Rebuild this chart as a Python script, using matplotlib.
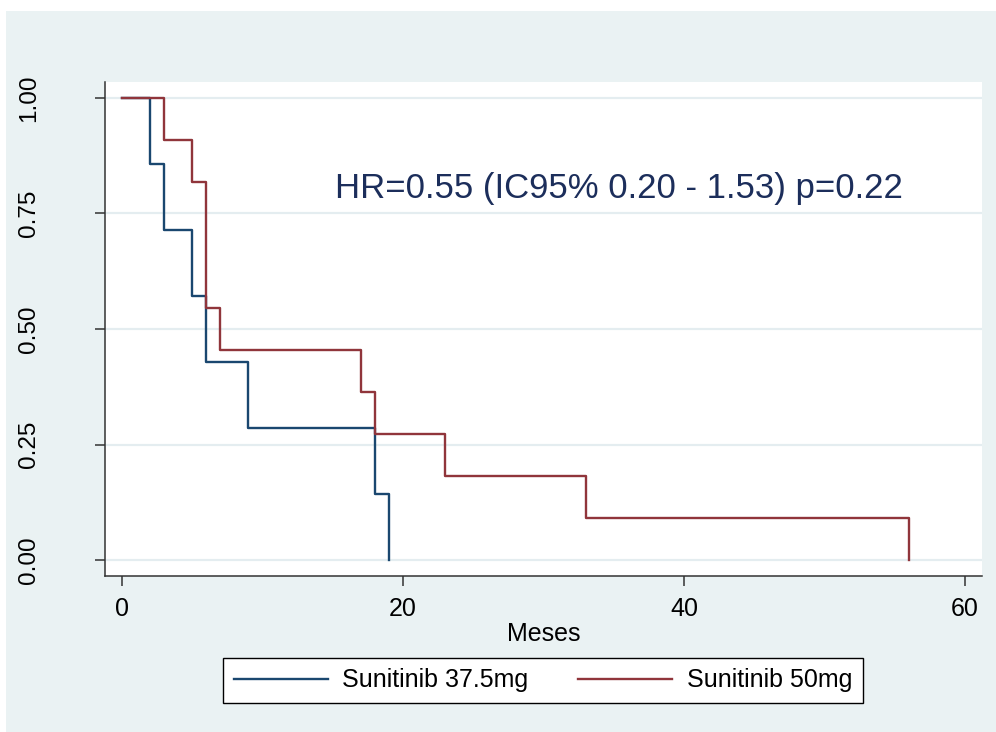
import matplotlib
matplotlib.use("Agg")
import matplotlib.pyplot as plt
from matplotlib.patches import Rectangle

plt.rcParams['font.family'] = ['Liberation Sans', 'DejaVu Sans']

# Kaplan-Meier estimates
meses_375 = [0, 2, 3, 5, 6, 9, 18, 19]
surv_375 = [1.0, 0.857, 0.714, 0.571, 0.429, 0.286, 0.143, 0.0]
meses_50 = [0, 3, 5, 6, 7, 17, 18, 23, 33, 56]
surv_50 = [1.0, 0.909, 0.818, 0.545, 0.455, 0.364, 0.273, 0.182, 0.091, 0.0]

labels = ['Sunitinib 37.5mg', 'Sunitinib 50mg']
x_ticks = [0, 20, 40, 60]
y_ticks = [0.0, 0.25, 0.5, 0.75, 1.0]
y_ticklabels = ['0.00', '0.25', '0.50', '0.75', '1.00']
hr_text = 'HR=0.55 (IC95% 0.20 - 1.53) p=0.22'

W, H = 996, 732
bg = '#eaf2f3'
navy = '#1a476f'
maroon = '#90353b'

fig = plt.figure(figsize=(W / 100, H / 100), dpi=100, facecolor='white')
# stata style graph region
fig.patches.append(Rectangle((6 / W, 0), 1 - 6 / W, 1 - 11 / H, transform=fig.transFigure,
                             facecolor=bg, edgecolor='none', zorder=-10))

ax = fig.add_axes([105 / W, 1 - 576 / H, (982 - 105) / W, (576 - 82) / H])
ax.set_facecolor('white')

ax.step(meses_375, surv_375, where='post', color=navy, lw=1.7, label=labels[0])
ax.step(meses_50, surv_50, where='post', color=maroon, lw=1.7, label=labels[1])

ax.set_xlim(-1.21, 61.21)
ax.set_ylim(-0.0346, 1.0346)
ax.set_xticks(x_ticks)
ax.set_yticks(y_ticks)
ax.set_yticklabels(y_ticklabels, rotation=90, va='center')

for y in y_ticks:
    ax.axhline(y, color='#e4edf0', lw=1.6, zorder=0)

for s in ['top', 'right']:
    ax.spines[s].set_visible(False)
for s in ['left', 'bottom']:
    ax.spines[s].set_color('#333333')
    ax.spines[s].set_linewidth(1.1)

ax.tick_params(axis='y', length=7, width=1.1, color='#333333', labelsize=17.5, pad=40)
ax.tick_params(axis='x', length=7, width=1.1, color='#333333', labelsize=18, pad=8)
ax.set_xlabel('Meses', fontsize=18, labelpad=1)

ax.text(15.16, 0.783, hr_text, fontsize=25, color='#1c2e5b', ha='left', va='baseline')

leg = fig.legend(loc='upper left', bbox_to_anchor=(223 / W, 1 - 658 / H),
                 ncol=2, fontsize=18, frameon=True, fancybox=False,
                 edgecolor='black', framealpha=1, handlelength=3.76, borderaxespad=0,
                 borderpad=0.42, columnspacing=1.96, handletextpad=0.6)
leg.get_frame().set_linewidth(1.0)

fig.savefig('out.png', dpi=100, facecolor='white')
